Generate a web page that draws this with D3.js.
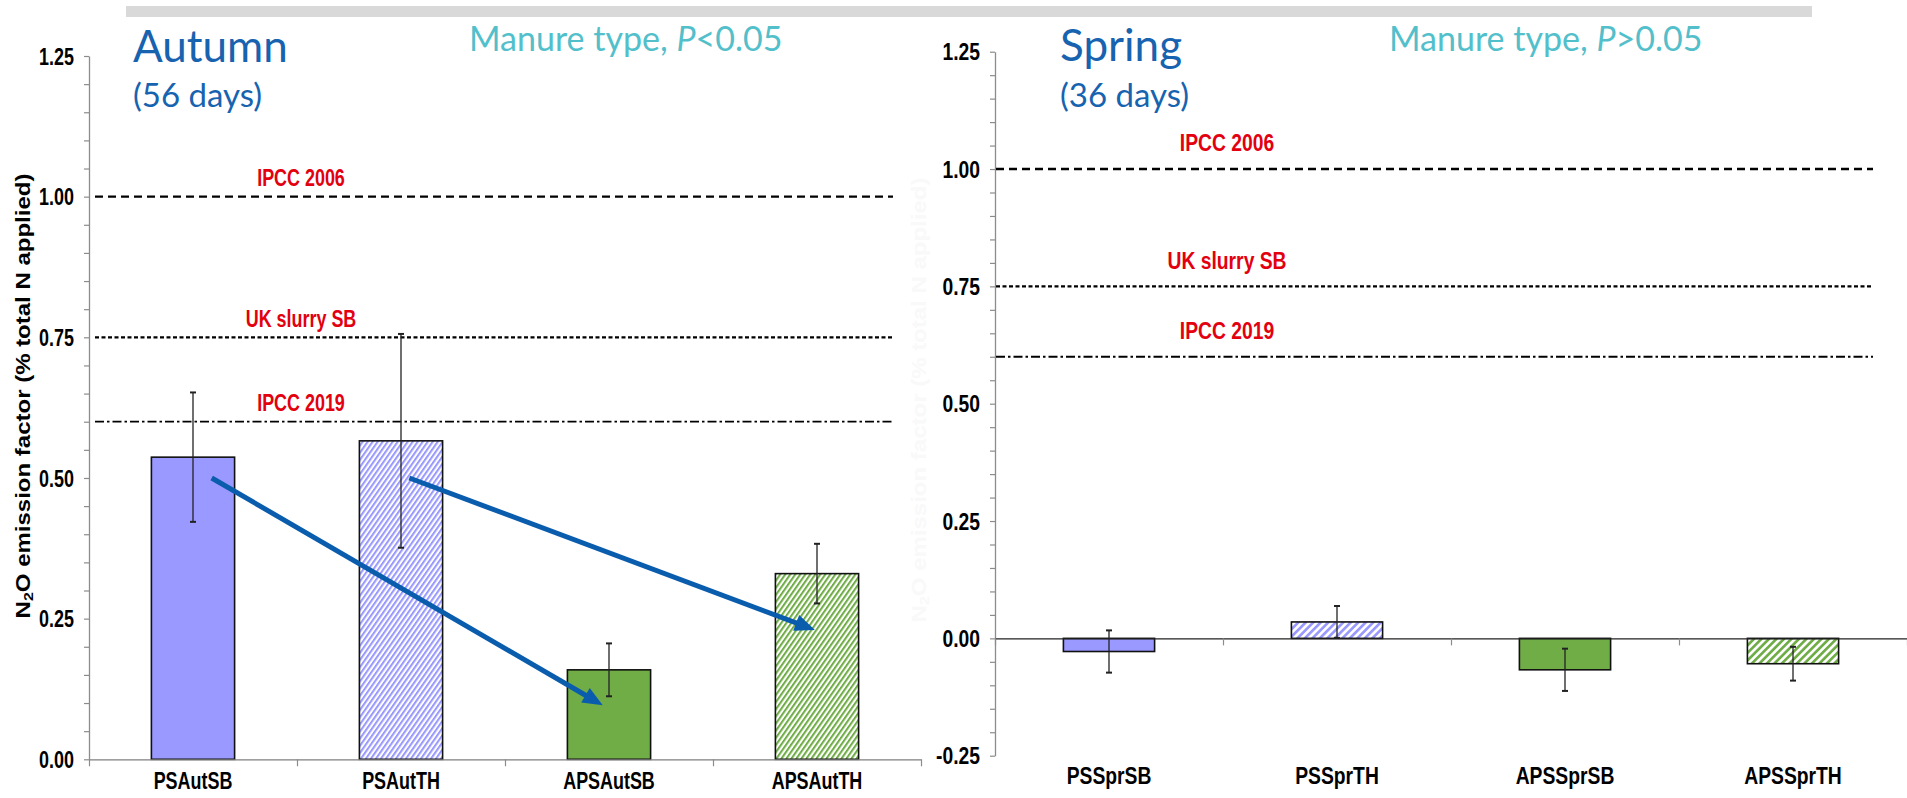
<!DOCTYPE html>
<html>
<head>
<meta charset="utf-8">
<script src="https://cdn.jsdelivr.net/npm/d3@7"></script>
<style>
  html, body { margin: 0; padding: 0; background: #fff; }
  svg { display: block; }
</style>
</head>
<body>
<svg id="chart" width="1907" height="798"></svg>
<script>
// N2O emission factors (% of total N applied) after slurry application, autumn vs spring
const autumnCategories = ["PSAutSB", "PSAutTH", "APSAutSB", "APSAutTH"];
const autumnValues = [0.537, 0.566, 0.159, 0.330];
const autumnErrors = [0.115, 0.190, 0.047, 0.053];

const springCategories = ["PSSprSB", "PSSprTH", "APSSprSB", "APSSprTH"];
const springValues = [-0.028, 0.035, -0.067, -0.054];
const springErrors = [0.045, 0.034, 0.045, 0.036];

const manureTypes = ["PS", "PS", "APS", "APS"];
const applicationMethods = ["SB", "TH", "SB", "TH"];

const autumnMajorTicks = [0, 0.25, 0.5, 0.75, 1.0, 1.25];
const springMajorTicks = [-0.25, 0, 0.25, 0.5, 0.75, 1.0, 1.25];

const referenceNames = ["IPCC 2006", "UK slurry SB", "IPCC 2019"];
const referenceValues = [1.0, 0.75, 0.60];

const seasonTitles = ["Autumn", "Spring"];
const seasonDurations = ["(56 days)", "(36 days)"];
const manureSignificance = ["<0.05", ">0.05"];

// arrows link the PS treatments to their APS counterparts (category, value)
const autumnArrows = [
  { from: "PSAutSB", fromValue: 0.50, to: "APSAutSB", toValue: 0.096 },
  { from: "PSAutTH", fromValue: 0.50, to: "APSAutTH", toValue: 0.23 }
];

const yTitle = ["N", "2", "O emission factor (% total N applied)"];

// ---------------------------------------------------------------------------
const svg = d3.select("#chart");
const W = 1907, H = 798;
const LABEL_FONT = "'Liberation Sans', Arial, sans-serif";
const TITLE_FONT = "Lato, 'Open Sans', sans-serif";
const fillColors = { PS: "#9999ff", APS: "#70ad47" };

svg.append("rect").attr("width", W).attr("height", H).attr("fill", "#fff");
// grey banner strip
svg.append("rect").attr("x", 126).attr("y", 6).attr("width", 1686).attr("height", 11).attr("fill", "#d9d9d9");

const defs = svg.append("defs");
function hatch(id, color, period, angle) {
  const p = defs.append("pattern")
    .attr("id", id)
    .attr("patternUnits", "userSpaceOnUse")
    .attr("width", period).attr("height", 10)
    .attr("patternTransform", `rotate(${angle})`);
  p.append("rect").attr("width", period).attr("height", 10).attr("fill", "#fff");
  p.append("rect").attr("width", period * 0.5).attr("height", 10).attr("fill", color);
}

const panels = [
  {
    id: "autumn", categories: autumnCategories, values: autumnValues, errors: autumnErrors,
    majorTicks: autumnMajorTicks, domain: [0, 1.25], arrows: autumnArrows,
    title: seasonTitles[0], duration: seasonDurations[0], signif: manureSignificance[0],
    layout: {
      x0: 89, x1: 921, yBottom: 759.3, yTop: 56, lineX: [95, 893], labelLift: 19,
      catLabelBase: 789, catLabelAtBottom: false, squeeze: 0.78, fontSize: 23,
      hatch: { period: 4.1, angle: 35 }, arrowShifts: [[0.09, -0.03], [0.04, -0.01]],
      title: [133, 62], duration: [133, 107], note: [469, 51], axisColor: "#7f7f7f"
    }
  },
  {
    id: "spring", categories: springCategories, values: springValues, errors: springErrors,
    majorTicks: springMajorTicks, domain: [-0.25, 1.25], arrows: [],
    title: seasonTitles[1], duration: seasonDurations[1], signif: manureSignificance[1],
    layout: {
      x0: 995, x1: 1907, yBottom: 755.7, yTop: 51.7, lineX: [996, 1873], labelLift: 26,
      catLabelBase: 784, catLabelAtBottom: true, squeeze: 0.84, fontSize: 23,
      hatch: { period: 5.3, angle: 45 }, arrowShifts: [],
      title: [1060, 61], duration: [1060, 107], note: [1389, 51], axisColor: "#222"
    }
  }
];

const refDash = ["8,5", "4,2.5", "9,3,2.5,3"];
const refWidth = [2.4, 2.2, 1.8];

panels.forEach(panel => {
  const L = panel.layout;
  const g = svg.append("g").attr("class", panel.id);

  hatch(`${panel.id}-PS`, fillColors.PS, L.hatch.period, L.hatch.angle);
  hatch(`${panel.id}-APS`, fillColors.APS, L.hatch.period, L.hatch.angle);

  const y = d3.scaleLinear().domain(panel.domain).range([L.yBottom, L.yTop]);
  const x = d3.scaleBand().domain(panel.categories).range([L.x0, L.x1])
    .paddingInner(0.6).paddingOuter(0.3);
  const slot = d3.scaleLinear().domain([0, panel.categories.length]).range([L.x0, L.x1]);

  // y axis with minor ticks every 0.05
  const lo = Math.round(panel.domain[0] / 0.05), hi = Math.round(panel.domain[1] / 0.05);
  const tickVals = d3.range(lo, hi + 1).map(i => i * 0.05);
  const isMajor = v => panel.majorTicks.some(m => Math.abs(m - v) < 1e-6);
  const yAxis = d3.axisLeft(y).tickValues(tickVals).tickSize(5).tickSizeOuter(0)
    .tickFormat(v => isMajor(v) ? v.toFixed(2) : "");
  const yg = g.append("g").attr("transform", `translate(${L.x0},0)`).call(yAxis);
  yg.select(".domain").attr("stroke", "#8c8c8c").attr("stroke-width", 1.3);
  yg.selectAll(".tick line").attr("stroke", "#8c8c8c").attr("stroke-width", 1.2);
  yg.selectAll(".tick text")
    .attr("x", 0).attr("dy", "0.36em")
    .attr("transform", `translate(-15,0) scale(${L.squeeze},1)`)
    .attr("font-family", LABEL_FONT).attr("font-weight", "bold")
    .attr("font-size", L.fontSize).attr("fill", "#000");

  // reference emission factors
  referenceValues.forEach((v, i) => {
    g.append("line")
      .attr("x1", L.lineX[0]).attr("x2", L.lineX[1])
      .attr("y1", y(v)).attr("y2", y(v))
      .attr("stroke", "#000").attr("stroke-width", refWidth[i])
      .attr("stroke-dasharray", refDash[i]);
    g.append("text")
      .attr("transform", `translate(${slot(1) + 4},${y(v) - L.labelLift}) scale(${L.squeeze},1)`)
      .attr("dy", "0.36em").attr("text-anchor", "middle")
      .attr("font-family", LABEL_FONT).attr("font-weight", "bold")
      .attr("font-size", L.fontSize).attr("fill", "#e3000f")
      .text(referenceNames[i]);
  });

  // bars
  panel.categories.forEach((c, i) => {
    const v = panel.values[i];
    const fill = applicationMethods[i] === "TH"
      ? `url(#${panel.id}-${manureTypes[i]})`
      : fillColors[manureTypes[i]];
    g.append("rect")
      .attr("x", x(c)).attr("width", x.bandwidth())
      .attr("y", y(Math.max(0, v))).attr("height", Math.abs(y(v) - y(0)))
      .attr("fill", fill).attr("stroke", "#111").attr("stroke-width", 1.6);
  });

  // x axis line at zero with slot ticks
  const xAxis = d3.axisBottom(slot).tickValues(d3.range(0, panel.categories.length + 1))
    .tickSize(7).tickSizeOuter(0).tickFormat("");
  const xg = g.append("g").attr("transform", `translate(0,${y(0)})`).call(xAxis);
  xg.select(".domain").attr("stroke", L.axisColor).attr("stroke-width", 1.3);
  xg.selectAll(".tick line").attr("stroke", "#8c8c8c").attr("stroke-width", 1.2);

  // category labels
  const labelAxis = d3.axisBottom(x).tickSize(0).tickSizeOuter(0);
  const baseY = L.catLabelAtBottom ? y(panel.domain[0]) : y(0);
  const lg = g.append("g").attr("transform", `translate(0,${baseY})`).call(labelAxis);
  lg.select(".domain").remove();
  lg.selectAll(".tick text")
    .attr("y", 0).attr("dy", 0)
    .attr("transform", `translate(0,${L.catLabelBase - baseY}) scale(${L.squeeze},1)`)
    .attr("font-family", LABEL_FONT).attr("font-weight", "bold")
    .attr("font-size", L.fontSize).attr("fill", "#000");

  // error bars
  panel.categories.forEach((c, i) => {
    const cx = x(c) + x.bandwidth() / 2;
    const top = y(panel.values[i] + panel.errors[i]);
    const bot = y(panel.values[i] - panel.errors[i]);
    const eg = g.append("g").attr("stroke", "#222").attr("stroke-width", 1.3);
    eg.append("line").attr("x1", cx).attr("x2", cx).attr("y1", top).attr("y2", bot);
    eg.append("line").attr("x1", cx - 3).attr("x2", cx + 3).attr("y1", top).attr("y2", top).attr("stroke-width", 2);
    eg.append("line").attr("x1", cx - 3).attr("x2", cx + 3).attr("y1", bot).attr("y2", bot).attr("stroke-width", 2);
  });

  // arrows
  panel.arrows.forEach((a, i) => {
    const sh = L.arrowShifts[i];
    const xs = x(a.from) + x.bandwidth() / 2 + sh[0] * x.step();
    const xe = x(a.to) + x.bandwidth() / 2 + sh[1] * x.step();
    const ys = y(a.fromValue), ye = y(a.toValue);
    const dx = xe - xs, dy = ye - ys, len = Math.hypot(dx, dy);
    const ux = dx / len, uy = dy / len;
    const headLen = 20, headHalf = 8.5;
    const bx = xe - ux * headLen, by = ye - uy * headLen;
    g.append("line")
      .attr("x1", xs).attr("y1", ys).attr("x2", bx + ux * 2).attr("y2", by + uy * 2)
      .attr("stroke", "#0a5cad").attr("stroke-width", 5);
    g.append("path")
      .attr("d", `M${xe},${ye}L${bx - uy * headHalf},${by + ux * headHalf}L${bx + uy * headHalf},${by - ux * headHalf}Z`)
      .attr("fill", "#0a5cad");
  });

  // season titles
  g.append("text").attr("x", L.title[0]).attr("y", L.title[1])
    .attr("font-family", TITLE_FONT).attr("font-size", 44).attr("fill", "#1763b0")
    .text(panel.title);
  g.append("text").attr("x", L.duration[0]).attr("y", L.duration[1])
    .attr("font-family", TITLE_FONT).attr("font-size", 33).attr("fill", "#1763b0")
    .text(panel.duration);
  const note = g.append("text").attr("x", L.note[0]).attr("y", L.note[1])
    .attr("font-family", TITLE_FONT).attr("font-size", 34).attr("fill", "#52bfcb");
  note.append("tspan").text("Manure type, ");
  note.append("tspan").attr("font-style", "italic").text("P");
  note.append("tspan").text(panel.signif);
});

// y-axis title (left panel) and its faint copy beside the right panel
function axisTitle(xPos, yPos, color) {
  const t = svg.append("text")
    .attr("transform", `translate(${xPos},${yPos}) scale(0.82,1) rotate(-90)`)
    .attr("text-anchor", "middle")
    .attr("font-family", LABEL_FONT).attr("font-weight", "bold")
    .attr("font-size", 24).attr("fill", color);
  t.append("tspan").text(yTitle[0]);
  t.append("tspan").attr("font-size", 16).attr("dy", 4).text(yTitle[1]);
  t.append("tspan").attr("dy", -4).text(yTitle[2]);
}
axisTitle(30, 396, "#000");
axisTitle(926, 400, "#f9f9f9");
</script>
</body>
</html>
